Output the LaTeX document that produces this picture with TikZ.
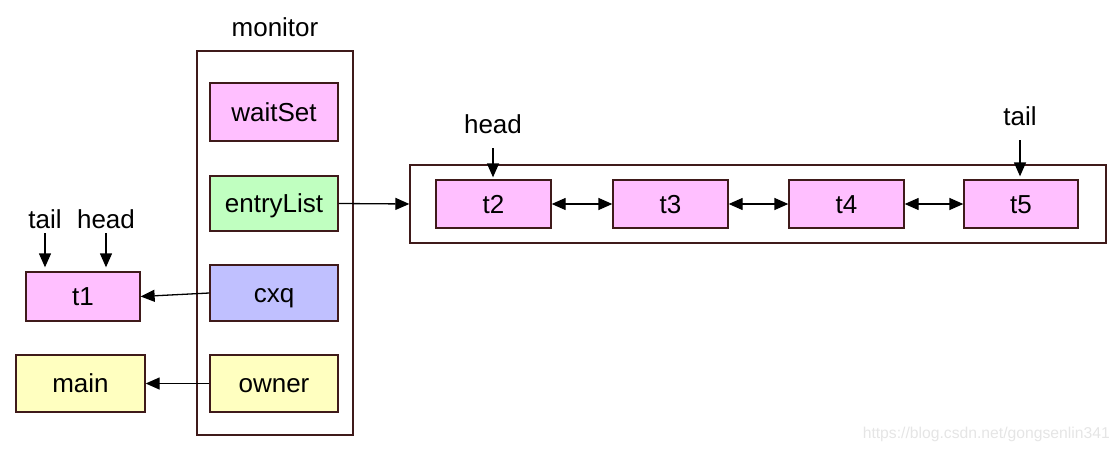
\documentclass[tikz,border=0pt]{standalone}
\usepackage{fontspec}
\setmainfont{Liberation Sans}
\usetikzlibrary{arrows.meta}
\definecolor{bord}{HTML}{3F1A1A}
\definecolor{cpink}{HTML}{FFBFFF}
\definecolor{cgreen}{HTML}{C0FFC0}
\definecolor{cblue}{HTML}{C0C0FF}
\definecolor{cyel}{HTML}{FFFFC0}
\tikzset{
  box/.style={draw=bord, line width=1.3pt, inner sep=0pt, text height=18.5pt, text depth=0pt, font=\fontsize{26}{30}\selectfont},
  frame/.style={draw=bord, line width=1.3pt, inner sep=0pt},
  lbl/.style={inner sep=0pt, font=\fontsize{26}{30}\selectfont},
  arr/.style={line width=1.3pt, -{Triangle[length=14pt,width=12pt]}},
  darr/.style={line width=1.3pt, {Triangle[length=14pt,width=12pt]}-{Triangle[length=14pt,width=12pt]}}
}
\begin{document}
\begin{tikzpicture}[x=1pt,y=-1pt]
\useasboundingbox (0,0) rectangle (1120,452);
% monitor
\node[frame, minimum width=156pt, minimum height=384pt] (mon) at (275,243) {};
\node[lbl, anchor=base] (monL) at (275,37) {monitor};
\node[box, fill=cpink, minimum width=128pt, minimum height=58pt] (ws) at (274,112) {waitSet};
\node[box, fill=cgreen, minimum width=128pt, minimum height=55pt] (el) at (274,203.5) {entryList};
\node[box, fill=cblue, minimum width=128pt, minimum height=56pt] (cxq) at (274,293) {cxq};
\node[box, fill=cyel, minimum width=128pt, minimum height=57pt] (own) at (274,383.5) {owner};
% left
\node[box, fill=cpink, minimum width=114pt, minimum height=49pt] (t1) at (83,296.5) {t1};
\node[box, fill=cyel, minimum width=129pt, minimum height=57pt] (main) at (80.5,383.5) {main};
\node[lbl, anchor=base] (tailA) at (45,228) {tail};
\node[lbl, anchor=base] (headA) at (106,228) {head};
\coordinate (ta1) at ([yshift=-5pt]tailA.base);
\coordinate (ta2) at ([yshift=4pt]tailA.base |- t1.north);
\coordinate (ha1) at ([yshift=-5pt]headA.base);
\coordinate (ha2) at ([yshift=4pt]headA.base |- t1.north);
\draw[arr] (ta1) -- (ta2);
\draw[arr] (ha1) -- (ha2);
\draw[arr] (cxq.west) -- (t1.east);
\draw[arr] (own.west) -- (main.east);
% list
\node[frame, minimum width=696pt, minimum height=78pt] (list) at (758,204) {};
\node[box, fill=cpink, minimum width=115pt, minimum height=48pt] (t2) at (493.5,204) {t2};
\node[box, fill=cpink, minimum width=115pt, minimum height=48pt] (t3) at (670.5,204) {t3};
\node[box, fill=cpink, minimum width=115pt, minimum height=48pt] (t4) at (846.5,204) {t4};
\node[box, fill=cpink, minimum width=114pt, minimum height=48pt] (t5) at (1021,204) {t5};
\draw[darr] (t2) -- (t3);
\draw[darr] (t3) -- (t4);
\draw[darr] (t4) -- (t5);
\draw[arr] (el.east) -- (list.west);
\node[lbl, anchor=base] (headB) at (493,133) {head};
\node[lbl, anchor=base] (tailB) at (1020,125) {tail};
\coordinate (hb1) at ([yshift=-15pt]headB.base);
\coordinate (hb2) at ([yshift=2pt]headB.base |- t2.north);
\coordinate (tb1) at ([yshift=-15pt]tailB.base);
\coordinate (tb2) at ([yshift=3pt]tailB.base |- t5.north);
\draw[arr] (hb1) -- (hb2);
\draw[arr] (tb1) -- (tb2);
% watermark
\node[anchor=base east, text=black!10, font=\fontsize{15.7}{18}\selectfont, inner sep=0pt] (wm) at (1110,438) {https://blog.csdn.net/gongsenlin341};
\end{tikzpicture}
\end{document}
